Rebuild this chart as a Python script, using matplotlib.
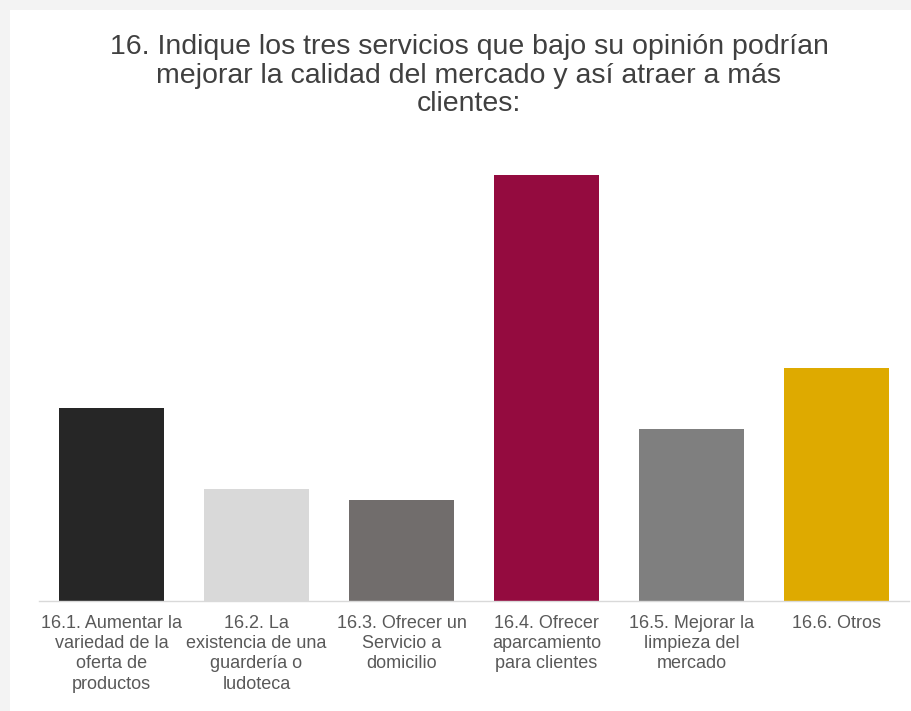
import numpy as np
import matplotlib.pyplot as plt
from matplotlib.patches import Rectangle

plt.rcParams['font.family'] = ['Liberation Sans', 'DejaVu Sans']

categories = ["16.1. Aumentar la\nvariedad de la\noferta de\nproductos",
              "16.2. La\nexistencia de una\nguardería o\nludoteca",
              "16.3. Ofrecer un\nServicio a\ndomicilio",
              "16.4. Ofrecer\naparcamiento\npara clientes",
              "16.5. Mejorar la\nlimpieza del\nmercado",
              "16.6. Otros"]
values = [19, 11, 10, 42, 17, 23]
colors = ["#262626", "#d9d9d9", "#716d6c", "#940b3f", "#7f7f7f", "#deaa00"]

title = ("16. Indique los tres servicios que bajo su opinión podrían\n"
         "mejorar la calidad del mercado y así atraer a más\n"
         "clientes:")

W, H = 911, 711
fig = plt.figure(figsize=(W / 100, H / 100), dpi=100)
fig.patch.set_facecolor("#f3f3f3")
fig.patches.append(Rectangle((10 / W, 0), 1 - 10 / W, 1 - 10 / H,
                             transform=fig.transFigure, facecolor="white",
                             edgecolor="none", zorder=-1))

# axes: x 39..909 px, y baseline 601, top 140
ax = fig.add_axes([39 / W, 1 - 601 / H, 870 / W, 461 / H])
ax.set_zorder(2)
ax.set_facecolor("none")
x = np.arange(len(values))
ax.bar(x, values, width=0.724, color=colors, zorder=2)
ax.set_xlim(-0.5, len(values) - 0.5)
ax.set_ylim(0, 42 * 461 / 426)

for s in ["top", "right", "left"]:
    ax.spines[s].set_visible(False)
ax.spines["bottom"].set_color("#d9d9d9")
ax.spines["bottom"].set_linewidth(1)
ax.set_yticks([])
ax.set_xticks(x)
ax.set_xticklabels(categories, fontsize=13, color="#595959", linespacing=1.25, va="top")
ax.tick_params(axis="x", length=0, pad=10)

fig.text(469 / W, 1 - 34 / H, title, ha="center", va="top", fontsize=20.5,
         color="#404040", linespacing=1.13, zorder=3)

fig.savefig("out.png", dpi=100, facecolor=fig.get_facecolor())
